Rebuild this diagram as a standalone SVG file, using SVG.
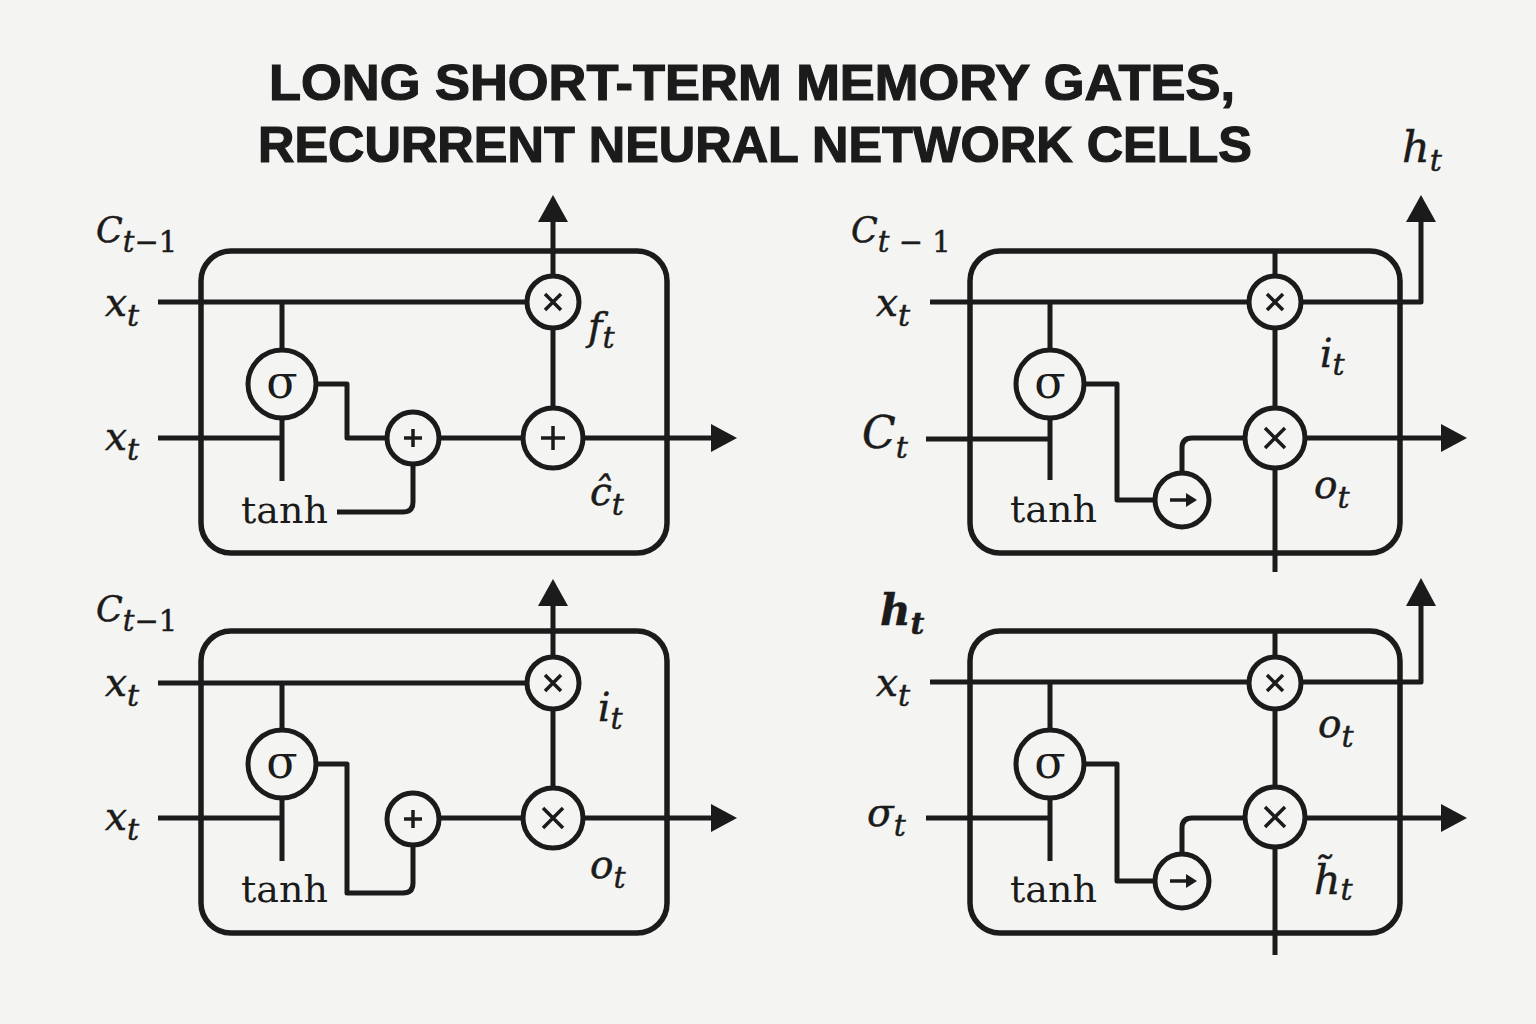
<svg xmlns="http://www.w3.org/2000/svg" width="1536" height="1024" viewBox="0 0 1536 1024">
<style>
.bg{fill:#f4f4f2}
.ln{fill:none;stroke:#1b1b1b;stroke-width:5;stroke-linecap:butt;stroke-linejoin:round}
.box{fill:none;stroke:#1b1b1b;stroke-width:5.5}
.nd{fill:#f4f4f2;stroke:#1b1b1b;stroke-width:5}
.op{fill:none;stroke:#1b1b1b;stroke-width:3.5;stroke-linecap:butt}
.ah{fill:#1b1b1b}
.title{font-family:"Liberation Sans",Arial,sans-serif;font-weight:bold;font-size:50px;fill:#1b1b1b;stroke:#1b1b1b;stroke-width:1.2}
.m{font-family:"DejaVu Serif","Liberation Serif",serif;font-style:italic;fill:#1b1b1b;stroke:#1b1b1b;stroke-width:0.5}
.rm{font-family:"DejaVu Serif","Liberation Serif",serif;fill:#1b1b1b}
.up{font-style:normal}
</style>
<rect class="bg" x="0" y="0" width="1536" height="1024"/>
<g id="title">
<text class="title" x="752" y="100" text-anchor="middle" textLength="966" lengthAdjust="spacingAndGlyphs">LONG SHORT-TERM MEMORY GATES,</text>
<text class="title" x="755" y="162" text-anchor="middle" textLength="994" lengthAdjust="spacingAndGlyphs">RECURRENT NEURAL NETWORK CELLS</text>
</g>

<!-- ===== Top-left panel ===== -->
<g id="panel-tl">
<g id="tl-frame"><rect class="box" x="201" y="251" width="466" height="302" rx="30"/></g>
<g id="tl-connectors">
<path class="ln" d="M158 302 H527"/>
<path class="ln" d="M282 302 V350"/>
<path class="ln" d="M282 418 V481"/>
<path class="ln" d="M158 438 H282"/>
<path class="ln" d="M316 384 H347 V438 H387"/>
<path class="ln" d="M439 438 H523"/>
<path class="ln" d="M553 328 V408"/>
<path class="ln" d="M553 276 V218"/>
<polygon class="ah" points="553,195 538,222 568,222"/>
<path class="ln" d="M583 438 H714"/>
<polygon class="ah" points="737,438 711,424 711,452"/>
<path class="ln" d="M337 512 H403 Q413 512 413 502 V464"/>
</g>
<g id="tl-sigma"><circle class="nd" cx="282" cy="384" r="34"/><text class="rm" x="282" y="398" font-size="46" text-anchor="middle">σ</text></g>
<g id="tl-plus1"><circle class="nd" cx="413" cy="438" r="26"/><path class="op" d="M404 438 H422 M413 429 V447" stroke-width="4"/></g>
<g id="tl-plus2"><circle class="nd" cx="553" cy="438" r="30"/><path class="op" d="M541 438 H565 M553 426 V450"/></g>
<g id="tl-times"><circle class="nd" cx="553" cy="302" r="26"/><path class="op" d="M545 294 L561 310 M561 294 L545 310"/></g>
<g id="tl-labels">
<text class="m" x="96" y="242" font-size="35">C<tspan dy="10" font-size="29">t−<tspan class="up">1</tspan></tspan></text>
<text class="m" x="105" y="316" font-size="39">x<tspan dy="10" font-size="30">t</tspan></text>
<text class="m" x="105" y="450" font-size="39">x<tspan dy="10" font-size="30">t</tspan></text>
<text class="m" x="588" y="340" font-size="39">f<tspan dy="8" font-size="30">t</tspan></text>
<text class="m" x="590" y="505" font-size="39">ĉ<tspan dy="10" font-size="30">t</tspan></text>
<text class="rm" x="241" y="523" font-size="38">tanh</text>
</g>
</g>

<!-- ===== Bottom-left panel ===== -->
<g id="panel-bl">
<g id="bl-frame"><rect class="box" x="201" y="631" width="466" height="302" rx="30"/></g>
<g id="bl-connectors">
<path class="ln" d="M158 683 H527"/>
<path class="ln" d="M282 683 V730"/>
<path class="ln" d="M282 798 V861"/>
<path class="ln" d="M158 818 H282"/>
<path class="ln" d="M316 764 H347 V893 H403 Q413 893 413 883 V845"/>
<path class="ln" d="M439 818 H523"/>
<path class="ln" d="M553 709 V789"/>
<path class="ln" d="M553 657 V602"/>
<polygon class="ah" points="553,579 538,606 568,606"/>
<path class="ln" d="M583 818 H714"/>
<polygon class="ah" points="737,818 711,804 711,832"/>
</g>
<g id="bl-sigma"><circle class="nd" cx="282" cy="764" r="34"/><text class="rm" x="282" y="778" font-size="46" text-anchor="middle">σ</text></g>
<g id="bl-plus"><circle class="nd" cx="413" cy="819" r="26"/><path class="op" d="M404 819 H422 M413 810 V828" stroke-width="4"/></g>
<g id="bl-times2"><circle class="nd" cx="553" cy="818" r="30"/><path class="op" d="M543 808 L563 828 M563 808 L543 828"/></g>
<g id="bl-times1"><circle class="nd" cx="553" cy="683" r="26"/><path class="op" d="M545 675 L561 691 M561 675 L545 691"/></g>
<g id="bl-labels">
<text class="m" x="96" y="621" font-size="35">C<tspan dy="10" font-size="29">t−<tspan class="up">1</tspan></tspan></text>
<text class="m" x="105" y="696" font-size="39">x<tspan dy="10" font-size="30">t</tspan></text>
<text class="m" x="105" y="830" font-size="39">x<tspan dy="10" font-size="30">t</tspan></text>
<text class="m" x="598" y="721" font-size="39">i<tspan dy="8" font-size="30">t</tspan></text>
<text class="m" x="590" y="878" font-size="39">o<tspan dy="10" font-size="30">t</tspan></text>
<text class="rm" x="241" y="902" font-size="38">tanh</text>
</g>
</g>

<!-- ===== Top-right panel ===== -->
<g id="panel-tr">
<g id="tr-frame"><rect class="box" x="970" y="251" width="430" height="302" rx="30"/></g>
<g id="tr-connectors">
<path class="ln" d="M1275 251 V276"/>
<path class="ln" d="M930 302 H1249"/>
<path class="ln" d="M1301 302 H1421 V218"/>
<polygon class="ah" points="1421,195 1406,222 1436,222"/>
<path class="ln" d="M1050 302 V350"/>
<path class="ln" d="M1050 418 V480"/>
<path class="ln" d="M926 439 H1050"/>
<path class="ln" d="M1084 384 H1117 V500 H1155"/>
<path class="ln" d="M1182 473 V448 Q1182 438 1192 438 H1245"/>
<path class="ln" d="M1275 328 V408"/>
<path class="ln" d="M1275 468 V572"/>
<path class="ln" d="M1305 438 H1444"/>
<polygon class="ah" points="1467,438 1441,424 1441,452"/>
</g>
<g id="tr-sigma"><circle class="nd" cx="1050" cy="384" r="34"/><text class="rm" x="1050" y="398" font-size="46" text-anchor="middle">σ</text></g>
<g id="tr-shift"><circle class="nd" cx="1182" cy="500" r="27"/><path class="op" d="M1170 500 H1187" stroke-width="5"/><polygon class="ah" points="1197,500 1186,493 1186,507"/></g>
<g id="tr-times1"><circle class="nd" cx="1275" cy="302" r="26"/><path class="op" d="M1267 294 L1283 310 M1283 294 L1267 310"/></g>
<g id="tr-times2"><circle class="nd" cx="1275" cy="438" r="30"/><path class="op" d="M1265 428 L1285 448 M1285 428 L1265 448"/></g>
<g id="tr-labels">
<text class="m" x="851" y="242" font-size="35">C<tspan dy="10" font-size="29">t − <tspan class="up">1</tspan></tspan></text>
<text class="m" x="876" y="316" font-size="39">x<tspan dy="10" font-size="30">t</tspan></text>
<text class="m" x="862" y="448" font-size="44">C<tspan dy="10" font-size="30">t</tspan></text>
<text class="m" x="1320" y="367" font-size="39">i<tspan dy="8" font-size="30">t</tspan></text>
<text class="m" x="1314" y="498" font-size="39">o<tspan dy="10" font-size="30">t</tspan></text>
<text class="m" x="1402" y="162" font-size="43">h<tspan dy="9" font-size="30">t</tspan></text>
<text class="rm" x="1010" y="522" font-size="38">tanh</text>
</g>
</g>

<!-- ===== Bottom-right panel ===== -->
<g id="panel-br">
<g id="br-frame"><rect class="box" x="970" y="631" width="430" height="302" rx="30"/></g>
<g id="br-connectors">
<path class="ln" d="M1275 631 V657"/>
<path class="ln" d="M930 682 H1249"/>
<path class="ln" d="M1301 682 H1421 V602"/>
<polygon class="ah" points="1421,578 1406,606 1436,606"/>
<path class="ln" d="M1050 682 V730"/>
<path class="ln" d="M1050 798 V861"/>
<path class="ln" d="M926 818 H1050"/>
<path class="ln" d="M1084 764 H1117 V881 H1155"/>
<path class="ln" d="M1182 854 V828 Q1182 818 1192 818 H1245"/>
<path class="ln" d="M1275 709 V787"/>
<path class="ln" d="M1275 847 V955"/>
<path class="ln" d="M1305 818 H1444"/>
<polygon class="ah" points="1467,818 1441,804 1441,832"/>
</g>
<g id="br-sigma"><circle class="nd" cx="1050" cy="764" r="34"/><text class="rm" x="1050" y="778" font-size="46" text-anchor="middle">σ</text></g>
<g id="br-shift"><circle class="nd" cx="1182" cy="881" r="27"/><path class="op" d="M1170 881 H1187" stroke-width="5"/><polygon class="ah" points="1197,881 1186,874 1186,888"/></g>
<g id="br-times1"><circle class="nd" cx="1275" cy="683" r="26"/><path class="op" d="M1267 675 L1283 691 M1283 675 L1267 691"/></g>
<g id="br-times2"><circle class="nd" cx="1275" cy="817" r="30"/><path class="op" d="M1265 807 L1285 827 M1285 807 L1265 827"/></g>
<g id="br-labels">
<text class="m" x="880" y="625" font-size="42" font-weight="bold">h<tspan dy="9" font-size="30">t</tspan></text>
<text class="m" x="876" y="696" font-size="39">x<tspan dy="10" font-size="30">t</tspan></text>
<text class="m" x="867" y="826" font-size="39">σ<tspan dy="10" font-size="30">t</tspan></text>
<text class="m" x="1318" y="737" font-size="39">o<tspan dy="10" font-size="30">t</tspan></text>
<text class="m" x="1314" y="894" font-size="41">h̃<tspan dy="6" font-size="30">t</tspan></text>
<text class="rm" x="1010" y="902" font-size="38">tanh</text>
</g>
</g>
</svg>
